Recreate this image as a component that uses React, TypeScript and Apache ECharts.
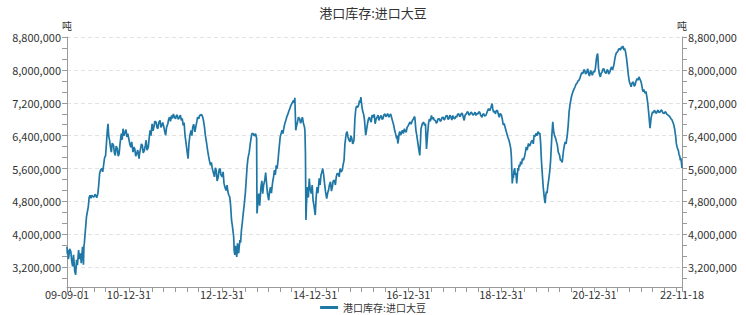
import { useEffect, useRef } from 'react';
import * as echarts from 'echarts';

const chartTitle = '港口库存:进口大豆';
const seriesName = '港口库存:进口大豆';
const unitName = '吨';

// Port inventory of imported soybeans, [month-day, 万吨] per year (1 万吨 = 10,000 吨)
const stock2009: [string, number][] = [
  ['09-01', 370], ['09-04', 352], ['09-08', 362], ['09-11', 340], ['09-15', 346], ['09-22', 365],
  ['10-01', 358], ['10-08', 335], ['10-15', 322], ['10-22', 350], ['11-01', 310], ['11-08', 302],
  ['11-15', 338], ['11-22', 325], ['12-01', 362], ['12-08', 340], ['12-15', 354], ['12-22', 330],
];
const stock2010: [string, number][] = [
  ['01-01', 370], ['01-05', 355], ['01-08', 326], ['01-12', 372], ['01-15', 378], ['01-22', 405],
  ['02-01', 443], ['02-08', 455], ['02-15', 467], ['02-22', 490], ['03-01', 495], ['03-08', 488],
  ['03-15', 495], ['03-22', 492], ['04-01', 491], ['04-08', 497], ['04-15', 495], ['04-22', 489],
  ['05-01', 499], ['05-08', 520], ['05-15', 548], ['05-22', 556], ['06-01', 560], ['06-08', 552],
  ['06-15', 568], ['06-22', 585], ['07-01', 592], ['07-05', 610], ['07-10', 633], ['07-15', 655],
  ['07-20', 669], ['07-25', 640], ['08-01', 629], ['08-08', 612], ['08-15', 600], ['08-22', 622],
  ['09-01', 617], ['09-08', 598], ['09-15', 592], ['09-22', 615], ['10-01', 608], ['10-08', 590],
  ['10-15', 596], ['10-22', 620], ['11-01', 645], ['11-08', 630], ['11-15', 657], ['11-22', 640],
  ['12-01', 649], ['12-08', 655], ['12-15', 637], ['12-22', 645],
];
const stock2011: [string, number][] = [
  ['01-01', 629], ['01-08', 618], ['01-15', 612], ['01-22', 625], ['02-01', 600], ['02-08', 612],
  ['02-15', 608], ['02-22', 590], ['03-01', 596], ['03-10', 605], ['03-20', 584], ['03-25', 598],
  ['04-01', 608], ['04-08', 620], ['04-15', 617], ['04-22', 598], ['05-01', 604], ['05-08', 615],
  ['05-15', 629], ['05-22', 605], ['06-01', 612], ['06-08', 635], ['06-15', 653], ['06-22', 640],
  ['07-01', 669], ['07-08', 652], ['07-15', 661], ['07-22', 675], ['08-01', 673], ['08-08', 660],
  ['08-15', 657], ['08-22', 672], ['09-01', 677], ['09-08', 660], ['09-15', 665], ['09-22', 672],
  ['10-01', 661], ['10-08', 650], ['10-15', 641], ['10-22', 660], ['11-01', 669], ['11-08', 680],
  ['11-15', 685], ['11-22', 675], ['12-01', 689], ['12-08', 682], ['12-15', 693], ['12-22', 686],
];
const stock2012: [string, number][] = [
  ['01-01', 681], ['01-08', 690], ['01-15', 689], ['01-22', 680], ['02-01', 685], ['02-08', 690],
  ['02-15', 677], ['02-22', 682], ['03-01', 665], ['03-08', 672], ['03-15', 641], ['03-22', 625],
  ['04-01', 600], ['04-08', 584], ['04-15', 621], ['04-22', 640], ['05-01', 653], ['05-08', 640],
  ['05-15', 661], ['05-22', 668], ['06-01', 649], ['06-08', 662], ['06-15', 673], ['06-22', 685],
  ['07-01', 681], ['07-08', 690], ['07-15', 689], ['07-22', 692], ['08-01', 685], ['08-08', 675],
  ['08-15', 660], ['08-22', 640], ['09-01', 621], ['09-08', 605], ['09-15', 592], ['09-22', 580],
  ['10-01', 568], ['10-08', 575], ['10-15', 560], ['10-22', 552], ['11-01', 540], ['11-08', 562],
  ['11-15', 556], ['11-22', 530], ['12-01', 540], ['12-08', 558], ['12-15', 560], ['12-22', 545],
];
const stock2013: [string, number][] = [
  ['01-01', 540], ['01-08', 552], ['01-15', 524], ['01-22', 515], ['02-01', 507], ['02-08', 520],
  ['02-15', 503], ['02-22', 495], ['03-01', 491], ['03-08', 470], ['03-15', 435], ['03-22', 420],
  ['04-01', 394], ['04-05', 360], ['04-10', 350], ['04-15', 372], ['04-20', 358], ['04-25', 345],
  ['05-01', 378], ['05-05', 362], ['05-10', 354], ['05-15', 372], ['05-20', 386], ['05-25', 380],
  ['06-01', 411], ['06-08', 430], ['06-15', 451], ['06-22', 470], ['07-01', 499], ['07-08', 530],
  ['07-15', 564], ['07-22', 585], ['08-01', 600], ['08-08', 618], ['08-15', 633], ['08-22', 645],
  ['09-01', 645], ['09-08', 640], ['09-15', 641], ['09-20', 645], ['09-25', 637], ['09-28', 635],
  ['10-01', 451], ['10-05', 467], ['10-08', 480], ['10-15', 499], ['10-22', 470], ['11-01', 515],
  ['11-08', 530], ['11-15', 499], ['11-22', 520], ['12-01', 532], ['12-08', 550], ['12-15', 524],
  ['12-22', 500],
];
const stock2014: [string, number][] = [
  ['01-01', 483], ['01-08', 505], ['01-15', 515], ['01-22', 500], ['02-01', 528], ['02-08', 540],
  ['02-15', 556], ['02-22', 545], ['03-01', 568], ['03-08', 560], ['03-15', 580], ['03-22', 605],
  ['04-01', 637], ['04-08', 645], ['04-15', 653], ['04-22', 645], ['05-01', 661], ['05-08', 670],
  ['05-15', 677], ['05-22', 685], ['06-01', 693], ['06-08', 700], ['06-15', 705], ['06-22', 712],
  ['07-01', 718], ['07-08', 722], ['07-15', 726], ['07-20', 720], ['07-25', 732], ['07-28', 700],
  ['08-01', 653], ['08-08', 665], ['08-15', 673], ['08-22', 685], ['09-01', 681], ['09-08', 670],
  ['09-15', 677], ['09-22', 685], ['10-01', 669], ['10-08', 662], ['10-12', 653], ['10-16', 600],
  ['10-20', 435], ['10-25', 480], ['11-01', 515], ['11-08', 490], ['11-15', 536], ['11-22', 510],
  ['12-01', 499], ['12-08', 520], ['12-15', 483], ['12-22', 470],
];
const stock2015: [string, number][] = [
  ['01-01', 447], ['01-08', 490], ['01-15', 515], ['01-22', 500], ['02-01', 536], ['02-08', 520],
  ['02-15', 544], ['02-22', 552], ['03-01', 560], ['03-08', 545], ['03-15', 524], ['03-22', 505],
  ['04-01', 487], ['04-08', 500], ['04-15', 507], ['04-22', 520], ['05-01', 528], ['05-08', 505],
  ['05-15', 515], ['05-22', 530], ['06-01', 532], ['06-08', 520], ['06-15', 540], ['06-22', 548],
  ['07-01', 548], ['07-08', 540], ['07-15', 560], ['07-22', 552], ['08-01', 556], ['08-08', 570],
  ['08-15', 580], ['08-22', 620], ['09-01', 645], ['09-08', 650], ['09-15', 637], ['09-22', 630],
  ['10-01', 625], ['10-08', 640], ['10-15', 633], ['10-22', 620], ['11-01', 629], ['11-08', 680],
  ['11-15', 705], ['11-22', 712], ['12-01', 709], ['12-08', 715], ['12-15', 726], ['12-20', 720],
  ['12-25', 734], ['12-28', 725],
];
const stock2016: [string, number][] = [
  ['01-01', 714], ['01-08', 700], ['01-15', 693], ['01-22', 680], ['02-01', 641], ['02-08', 655],
  ['02-15', 669], ['02-22', 680], ['03-01', 685], ['03-08', 678], ['03-15', 673], ['03-22', 690],
  ['04-01', 685], ['04-08', 692], ['04-15', 669], ['04-22', 680], ['05-01', 685], ['05-08', 690],
  ['05-15', 677], ['05-22', 684], ['06-01', 689], ['06-08', 680], ['06-15', 681], ['06-22', 690],
  ['07-01', 693], ['07-08', 686], ['07-15', 689], ['07-22', 694], ['08-01', 685], ['08-08', 690],
  ['08-15', 693], ['08-22', 684], ['09-01', 673], ['09-08', 665], ['09-15', 653], ['09-22', 645],
  ['10-01', 633], ['10-05', 640], ['10-10', 621], ['10-15', 630], ['10-20', 645], ['10-25', 650],
  ['11-01', 641], ['11-08', 648], ['11-15', 653], ['11-22', 645], ['12-01', 657], ['12-08', 650],
  ['12-15', 649], ['12-22', 660],
];
const stock2017: [string, number][] = [
  ['01-01', 665], ['01-08', 670], ['01-15', 673], ['01-22', 668], ['02-01', 677], ['02-08', 680],
  ['02-15', 685], ['02-20', 686], ['03-01', 653], ['03-08', 640], ['03-15', 625], ['03-22', 610],
  ['03-31', 592], ['04-05', 620], ['04-10', 657], ['04-20', 669], ['05-01', 673], ['05-08', 665],
  ['05-15', 669], ['05-23', 608], ['06-01', 645], ['06-08', 670], ['06-15', 681], ['06-22', 675],
  ['07-01', 689], ['07-08', 680], ['07-15', 685], ['07-22', 678], ['08-01', 677], ['08-08', 670],
  ['08-15', 673], ['08-22', 681], ['09-01', 681], ['09-08', 675], ['09-15', 677], ['09-22', 684],
  ['10-01', 685], ['10-08', 678], ['10-15', 681], ['10-22', 688], ['11-01', 689], ['11-08', 680],
  ['11-15', 681], ['11-22', 690], ['12-01', 685], ['12-08', 678], ['12-15', 689], ['12-22', 683],
];
const stock2018: [string, number][] = [
  ['01-01', 681], ['01-08', 688], ['01-15', 685], ['01-22', 692], ['02-01', 693], ['02-08', 686],
  ['02-15', 689], ['02-22', 695], ['03-01', 693], ['03-08', 684], ['03-15', 677], ['03-22', 690],
  ['04-01', 693], ['04-08', 698], ['04-15', 697], ['04-22', 690], ['05-01', 693], ['05-08', 697],
  ['05-15', 695], ['05-22', 690], ['06-01', 693], ['06-08', 697], ['06-15', 689], ['06-22', 694],
  ['07-01', 693], ['07-08', 698], ['07-15', 697], ['07-22', 690], ['08-01', 685], ['08-08', 692],
  ['08-15', 693], ['08-22', 688], ['09-01', 689], ['09-08', 695], ['09-15', 701], ['09-22', 706],
  ['10-01', 701], ['10-10', 708], ['10-20', 718], ['10-25', 705], ['11-01', 697], ['11-08', 700],
  ['11-15', 693], ['11-22', 701], ['12-01', 701], ['12-08', 692], ['12-15', 685], ['12-22', 694],
];
const stock2019: [string, number][] = [
  ['01-01', 690], ['01-08', 680], ['01-15', 666], ['01-22', 670], ['02-01', 658], ['02-08', 650],
  ['02-15', 642], ['02-22', 635], ['03-01', 629], ['03-08', 620], ['03-15', 609], ['03-20', 590],
  ['03-27', 524], ['04-01', 540], ['04-05', 537], ['04-10', 555], ['04-15', 561], ['04-20', 545],
  ['04-25', 549], ['05-01', 524], ['05-05', 540], ['05-10', 561], ['05-15', 555], ['05-20', 569],
  ['05-25', 565], ['06-01', 577], ['06-08', 570], ['06-15', 585], ['06-22', 580], ['07-01', 589],
  ['07-08', 600], ['07-15', 613], ['07-22', 605], ['08-01', 621], ['08-08', 615], ['08-15', 617],
  ['08-22', 625], ['09-01', 629], ['09-08', 620], ['09-15', 642], ['09-22', 638], ['10-01', 646],
  ['10-08', 640], ['10-15', 650], ['10-22', 645], ['10-30', 646], ['11-05', 620], ['11-10', 585],
  ['11-15', 560], ['11-20', 537], ['11-25', 515], ['12-01', 496], ['12-05', 485], ['12-10', 476],
  ['12-15', 495], ['12-20', 504], ['12-25', 500],
];
const stock2020: [string, number][] = [
  ['01-01', 520], ['01-08', 535], ['01-15', 553], ['01-22', 580], ['02-01', 642], ['02-05', 660],
  ['02-08', 674], ['02-12', 660], ['02-15', 650], ['02-22', 640], ['03-01', 634], ['03-08', 625],
  ['03-15', 617], ['03-22', 600], ['04-01', 593], ['04-08', 580], ['04-15', 581], ['04-22', 575],
  ['05-01', 601], ['05-08', 615], ['05-15', 625], ['05-22', 620], ['06-01', 642], ['06-08', 665],
  ['06-15', 698], ['06-22', 715], ['07-01', 731], ['07-08', 740], ['07-15', 747], ['07-22', 752],
  ['08-01', 759], ['08-08', 765], ['08-15', 767], ['08-22', 772], ['09-01', 775], ['09-08', 780],
  ['09-15', 787], ['09-22', 793], ['10-01', 791], ['10-08', 800], ['10-15', 799], ['10-22', 790],
  ['11-01', 795], ['11-08', 803], ['11-15', 791], ['11-22', 785], ['12-01', 799], ['12-08', 792],
  ['12-15', 787], ['12-22', 796],
];
const stock2021: [string, number][] = [
  ['01-01', 795], ['01-08', 805], ['01-15', 827], ['01-20', 835], ['01-25', 840], ['01-28', 825],
  ['02-01', 803], ['02-08', 790], ['02-15', 783], ['02-22', 792], ['03-01', 795], ['03-08', 802],
  ['03-15', 803], ['03-22', 795], ['04-01', 791], ['04-08', 800], ['04-15', 799], ['04-22', 790],
  ['05-01', 795], ['05-08', 803], ['05-15', 807], ['05-22', 800], ['06-01', 811], ['06-08', 825],
  ['06-15', 836], ['06-22', 842], ['07-01', 844], ['07-08', 850], ['07-15', 852], ['07-22', 848],
  ['08-01', 856], ['08-05', 852], ['08-10', 858], ['08-15', 855], ['08-20', 848], ['08-25', 852],
  ['09-01', 844], ['09-08', 830], ['09-15', 811], ['09-22', 790], ['10-01', 771], ['10-08', 765],
  ['10-15', 759], ['10-22', 768], ['11-01', 771], ['11-08', 760], ['11-15', 763], ['11-22', 772],
  ['12-01', 779], ['12-08', 775], ['12-15', 783], ['12-22', 778],
];
const stock2022: [string, number][] = [
  ['01-01', 771], ['01-08', 760], ['01-15', 747], ['01-22', 752], ['02-01', 743], ['02-08', 748],
  ['02-15', 735], ['02-22', 720], ['03-01', 698], ['03-06', 680], ['03-12', 658], ['03-16', 670],
  ['03-20', 682], ['03-25', 690], ['04-01', 698], ['04-08', 695], ['04-15', 702], ['04-22', 698],
  ['05-01', 694], ['05-08', 700], ['05-15', 702], ['05-22', 696], ['06-01', 698], ['06-08', 703],
  ['06-15', 700], ['06-22', 695], ['07-01', 694], ['07-08', 698], ['07-15', 697], ['07-22', 692],
  ['08-01', 690], ['08-08', 688], ['08-15', 686], ['08-22', 682], ['09-01', 678], ['09-08', 672],
  ['09-15', 666], ['09-22', 655], ['10-01', 634], ['10-05', 620], ['10-10', 613], ['10-15', 608],
  ['10-20', 605], ['10-25', 595], ['11-01', 589], ['11-05', 580], ['11-10', 585], ['11-15', 570],
  ['11-18', 561],
];

const stockByYear: [number, [string, number][]][] = [
  [2009, stock2009], [2010, stock2010], [2011, stock2011], [2012, stock2012], [2013, stock2013],
  [2014, stock2014], [2015, stock2015], [2016, stock2016], [2017, stock2017], [2018, stock2018],
  [2019, stock2019], [2020, stock2020], [2021, stock2021], [2022, stock2022],
];

const yMin = 2720000;
const yMax = 8800000;
const yLabelValues = [3200000, 4000000, 4800000, 5600000, 6400000, 7200000, 8000000, 8800000];
const yTickValues = [
  2933333, 3200000, 3466667, 3733333, 4000000, 4266667, 4533333, 4800000, 5066667, 5333333, 5600000,
  5866667, 6133333, 6400000, 6666667, 6933333, 7200000, 7466667, 7733333, 8000000, 8266667, 8533333, 8800000,
];

const xStart = '2009-09-01';
const xEnd = '2022-11-18';
const xLabelDates = ['2009-09-01', '2010-12-31', '2012-12-31', '2014-12-31', '2016-12-31', '2018-12-31', '2020-12-31', '2022-11-18'];
const xTickDates = [
  '2009-09-01', '2009-09-30', '2009-12-31',
  '2010-03-31', '2010-06-30', '2010-09-30', '2010-12-31',
  '2011-03-31', '2011-06-30', '2011-09-30', '2011-12-31',
  '2012-03-31', '2012-06-30', '2012-09-30', '2012-12-31',
  '2013-03-31', '2013-06-30', '2013-09-30', '2013-12-31',
  '2014-03-31', '2014-06-30', '2014-09-30', '2014-12-31',
  '2015-03-31', '2015-06-30', '2015-09-30', '2015-12-31',
  '2016-03-31', '2016-06-30', '2016-09-30', '2016-12-31',
  '2017-03-31', '2017-06-30', '2017-09-30', '2017-12-31',
  '2018-03-31', '2018-06-30', '2018-09-30', '2018-12-31',
  '2019-03-31', '2019-06-30', '2019-09-30', '2019-12-31',
  '2020-03-31', '2020-06-30', '2020-09-30', '2020-12-31',
  '2021-03-31', '2021-06-30', '2021-09-30', '2021-12-31',
  '2022-03-31', '2022-06-30', '2022-09-30', '2022-11-18',
];

const FONT = "'Noto Sans CJK SC', 'Noto Sans', sans-serif";
const LINE_COLOR = '#1f77a6';
const AXIS_COLOR = '#9a9a9a';
const TEXT_COLOR = '#333';

function toTime(s: string): number {
  const [y, m, d] = s.split('-').map(Number);
  return Date.UTC(y, m - 1, d);
}

function fmtDate(v: number): string {
  const d = new Date(v);
  const yy = String(d.getUTCFullYear()).slice(2);
  const mm = String(d.getUTCMonth() + 1).padStart(2, '0');
  const dd = String(d.getUTCDate()).padStart(2, '0');
  return `${yy}-${mm}-${dd}`;
}

function fmtNum(v: number): string {
  return Math.round(v).toLocaleString('en-US');
}

function yAxisFor(position: 'left' | 'right') {
  return {
    type: 'value',
    position,
    min: yMin,
    max: yMax,
    name: unitName,
    nameLocation: 'end',
    nameGap: 7,
    nameTextStyle: { color: TEXT_COLOR, fontSize: 10, fontFamily: FONT },
    axisLine: { show: true, lineStyle: { color: AXIS_COLOR, width: 1 } },
    axisTick: { show: true, length: 5, customValues: yTickValues, lineStyle: { color: AXIS_COLOR } },
    axisLabel: {
      customValues: yLabelValues,
      formatter: (v: number) => fmtNum(v),
      color: TEXT_COLOR,
      fontSize: 11,
      fontFamily: FONT,
      margin: 6,
    },
    splitLine: { show: false },
  };
}

export default function App() {
  const ref = useRef<HTMLDivElement>(null);

  useEffect(() => {
    document.body.style.margin = '0';
    if (!ref.current) return;
    const chart = echarts.init(ref.current, undefined, { renderer: 'svg' });
    const data = stockByYear.flatMap(([year, rows]) =>
      rows.map(([md, wanTon]) => [toTime(`${year}-${md}`), wanTon * 10000])
    );
    chart.setOption({
      animation: false,
      backgroundColor: '#fff',
      textStyle: { fontFamily: FONT },
      title: {
        text: chartTitle,
        left: 'center',
        top: 6,
        padding: 0,
        textStyle: { color: TEXT_COLOR, fontSize: 13, fontWeight: 'normal', fontFamily: FONT },
      },
      legend: {
        data: [seriesName],
        left: 'center',
        top: 302,
        icon: 'rect',
        itemWidth: 18,
        itemHeight: 3,
        padding: 0,
        textStyle: { color: TEXT_COLOR, fontSize: 10, lineHeight: 11, fontFamily: FONT },
      },
      grid: { left: 67, right: 64, top: 37, bottom: 28, containLabel: false, outerBoundsMode: 'none' },
      xAxis: {
        type: 'value',
        min: toTime(xStart),
        max: toTime(xEnd),
        axisLine: { show: true, onZero: false, lineStyle: { color: AXIS_COLOR } },
        axisTick: { show: true, length: 5, customValues: xTickDates.map(toTime), lineStyle: { color: AXIS_COLOR } },
        axisLabel: {
          customValues: xLabelDates.map(toTime),
          formatter: (v: number) => fmtDate(v),
          color: TEXT_COLOR,
          fontSize: 11,
          lineHeight: 11,
          fontFamily: FONT,
          margin: 1,
          hideOverlap: false,
        },
        splitLine: { show: false },
      },
      yAxis: [
        yAxisFor('left'),
        yAxisFor('right'),
        {
          type: 'value',
          position: 'left',
          min: yMin,
          max: yMax,
          axisLine: { show: false },
          axisTick: { show: false, customValues: yLabelValues },
          axisLabel: { show: false, customValues: yLabelValues },
          splitLine: { show: true, lineStyle: { color: '#e3e3e3', type: [4, 3], width: 1 } },
        },
      ],
      series: [
        {
          name: seriesName,
          type: 'line',
          yAxisIndex: 0,
          data,
          showSymbol: false,
          symbol: 'none',
          lineStyle: { color: LINE_COLOR, width: 1.7 },
          itemStyle: { color: LINE_COLOR },
        },
      ],
    });
    return () => chart.dispose();
  }, []);

  return (
    <div
      ref={ref}
      style={{ position: 'absolute', left: 0, top: 0, width: 746, height: 315, background: '#fff' }}
    />
  );
}
